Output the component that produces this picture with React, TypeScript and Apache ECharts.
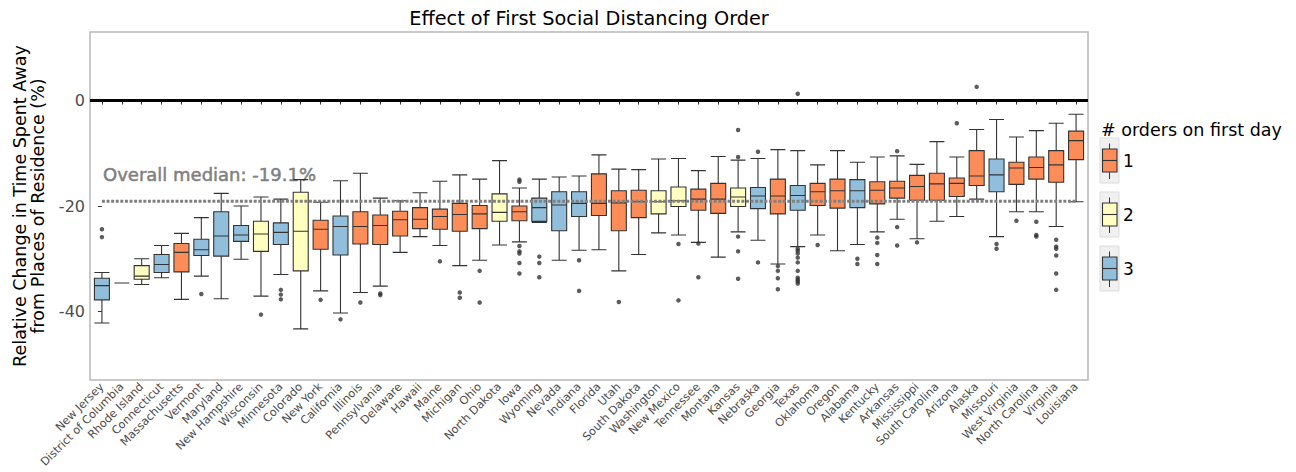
import React, { useEffect, useRef } from "react";
import * as echarts from "echarts";

const states = [
  "New Jersey", "District of Columbia", "Rhode Island", "Connecticut", "Massachusetts",
  "Vermont", "Maryland", "New Hampshire", "Wisconsin", "Minnesota",
  "Colorado", "New York", "California", "Illinois", "Pennsylvania",
  "Delaware", "Hawaii", "Maine", "Michigan", "Ohio",
  "North Dakota", "Iowa", "Wyoming", "Nevada", "Indiana",
  "Florida", "Utah", "South Dakota", "Washington", "New Mexico",
  "Tennessee", "Montana", "Kansas", "Nebraska", "Georgia",
  "Texas", "Oklahoma", "Oregon", "Alabama", "Kentucky",
  "Arkansas", "Mississippi", "South Carolina", "Arizona", "Alaska",
  "Missouri", "West Virginia", "North Carolina", "Virginia", "Louisiana",
];

// # orders on first day
const groups = [
  3, 3, 2, 3, 1, 3, 3, 3, 2, 3,
  2, 1, 3, 1, 1, 1, 1, 1, 1, 1,
  2, 1, 3, 3, 3, 1, 1, 1, 2, 2,
  1, 1, 2, 3, 1, 3, 1, 1, 3, 1,
  1, 1, 1, 1, 1, 3, 1, 1, 1, 1,
];

const whiskerLow = [
  -42.2, -34.6, -34.9, -33.6, -37.7, -33.3, -37.6, -30.1, -37.1, -33.0,
  -43.3, -36.1, -40.3, -36.4, -35.2, -28.8, -25.8, -27.5, -31.3, -30.3,
  -27.4, -26.8, -23.1, -30.3, -28.4, -28.3, -32.3, -29.2, -25.1, -25.5,
  -26.9, -29.7, -24.9, -26.5, -31.0, -27.7, -25.5, -28.5, -27.3, -24.9,
  -22.5, -26.2, -22.9, -22.0, -18.7, -25.8, -21.1, -21.1, -23.9, -19.2,
];
const q1 = [
  -37.8, -34.6, -33.9, -32.6, -32.5, -29.4, -29.5, -26.7, -28.6, -27.3,
  -32.3, -28.2, -29.3, -27.2, -27.3, -25.7, -24.3, -24.4, -24.8, -24.3,
  -22.9, -22.8, -22.9, -24.7, -22.0, -21.8, -24.7, -22.2, -21.5, -20.1,
  -20.8, -21.4, -20.1, -20.5, -21.5, -20.8, -19.9, -20.4, -20.3, -19.6,
  -18.5, -18.9, -18.9, -18.2, -16.1, -17.3, -15.9, -14.9, -15.5, -11.2,
];
const median = [
  -35.1, -34.6, -33.3, -31.1, -28.8, -28.3, -25.7, -25.5, -25.3, -25.0,
  -24.8, -24.4, -23.9, -23.9, -23.7, -22.6, -22.5, -22.0, -21.6, -21.5,
  -21.2, -21.1, -20.3, -19.8, -19.5, -19.5, -19.4, -19.2, -19.2, -19.0,
  -18.7, -18.7, -18.3, -18.1, -18.1, -18.0, -17.3, -17.1, -17.1, -17.0,
  -16.6, -16.3, -15.8, -15.7, -14.3, -14.1, -12.8, -12.7, -12.2, -7.6,
];
const q3 = [
  -33.7, -34.6, -31.3, -29.2, -27.1, -26.3, -21.1, -23.7, -22.9, -23.2,
  -17.4, -22.7, -21.9, -21.1, -21.7, -21.0, -20.3, -20.6, -19.5, -19.9,
  -17.7, -20.0, -18.5, -17.3, -17.3, -13.9, -17.1, -17.0, -17.1, -16.4,
  -16.8, -15.7, -16.6, -16.5, -14.9, -16.1, -15.7, -14.9, -15.0, -15.4,
  -15.3, -14.2, -13.8, -14.7, -9.5, -11.1, -11.7, -10.7, -9.5, -5.8,
];
const whiskerHigh = [
  -32.6, -34.6, -30.0, -27.5, -25.2, -22.2, -17.6, -20.0, -18.3, -18.7,
  -15.0, -19.3, -15.2, -13.8, -18.5, -19.0, -17.5, -15.3, -14.1, -14.9,
  -11.4, -16.6, -14.9, -14.5, -14.3, -10.3, -13.0, -13.1, -11.1, -11.0,
  -13.3, -10.6, -11.3, -11.0, -9.3, -9.5, -12.2, -9.5, -11.7, -10.7,
  -10.5, -12.1, -7.8, -10.7, -5.5, -3.6, -6.9, -5.7, -4.3, -2.6,
];

const outliers: [string, number][] = [
  ["New Jersey", -24.4], ["New Jersey", -25.9],
  ["Vermont", -36.7],
  ["Wisconsin", -40.6],
  ["Minnesota", -35.9], ["Minnesota", -36.8], ["Minnesota", -37.7],
  ["New York", -37.8],
  ["California", -41.5],
  ["Illinois", -38.3],
  ["Pennsylvania", -36.6], ["Pennsylvania", -36.9],
  ["Maine", -30.5],
  ["Michigan", -36.4], ["Michigan", -37.4],
  ["Ohio", -32.3], ["Ohio", -38.3],
  ["Iowa", -15.0], ["Iowa", -15.4], ["Iowa", -27.6], ["Iowa", -28.6], ["Iowa", -29.0], ["Iowa", -30.8], ["Iowa", -32.8],
  ["Wyoming", -29.6], ["Wyoming", -30.8], ["Wyoming", -33.5],
  ["Indiana", -30.3], ["Indiana", -36.1],
  ["Utah", -38.2],
  ["New Mexico", -27.2], ["New Mexico", -37.9],
  ["Tennessee", -27.1], ["Tennessee", -33.5],
  ["Kansas", -5.6], ["Kansas", -10.7], ["Kansas", -25.8], ["Kansas", -28.6], ["Kansas", -33.8],
  ["Nebraska", -9.7], ["Nebraska", -30.7],
  ["Georgia", -31.4], ["Georgia", -32.3], ["Georgia", -33.7], ["Georgia", -35.8],
  ["Texas", 1.3], ["Texas", -28.1], ["Texas", -28.5], ["Texas", -29.0], ["Texas", -29.8], ["Texas", -30.7],
  ["Texas", -32.3], ["Texas", -33.6], ["Texas", -34.0], ["Texas", -34.3], ["Texas", -34.7],
  ["Oklahoma", -27.4],
  ["Alabama", -30.0], ["Alabama", -31.0],
  ["Kentucky", -26.0], ["Kentucky", -27.0], ["Kentucky", -29.3], ["Kentucky", -31.0],
  ["Arkansas", -9.6], ["Arkansas", -24.0], ["Arkansas", -27.5],
  ["Mississippi", -26.9],
  ["Arizona", -4.3],
  ["Alaska", 2.6],
  ["Missouri", -27.2], ["Missouri", -28.1],
  ["West Virginia", -22.8],
  ["North Carolina", -23.0], ["North Carolina", -25.5], ["North Carolina", -25.8],
  ["Virginia", -26.4], ["Virginia", -27.7], ["Virginia", -28.1], ["Virginia", -29.4], ["Virginia", -32.8], ["Virginia", -35.9],
];

const overallMedian = -19.1;
const yTicks = [-40, -20, 0];
const legendLabels = ["1", "2", "3"];

const groupColors: Record<number, string> = { 1: "#FC8D59", 2: "#FFFFBF", 3: "#91BFDB" };
const FONT = "DejaVu Sans";

export default function App() {
  const ref = useRef<HTMLDivElement>(null);
  useEffect(() => {
    document.body.style.margin = "0";
    const chart = echarts.init(ref.current!, null, { renderer: "svg" });
    const idx = states.map((_, i) => i);
    const boxData = states.map((_, i) => ({
      value: [i, whiskerLow[i], q1[i], median[i], q3[i], whiskerHigh[i]],
      itemStyle: { color: groupColors[groups[i]], borderColor: "#333333", borderWidth: 1.1 },
    }));
    const outData = outliers.map(([s, v]) => [states.indexOf(s), v]);

    const legendEls: any[] = [];
    legendLabels.forEach((lab, k) => {
      const cy = 160.5 + 54 * k;
      legendEls.push(
        { type: "rect", shape: { x: 1100, y: cy - 22.5, width: 19, height: 45 }, style: { fill: "#f0f0f0", stroke: "#dddddd", lineWidth: 1 } },
        { type: "line", shape: { x1: 1109.5, y1: cy - 17, x2: 1109.5, y2: cy + 18.5 }, style: { stroke: "#333333", lineWidth: 1 } },
        { type: "rect", shape: { x: 1102.5, y: cy - 11.5, width: 14.5, height: 23 }, style: { fill: groupColors[Number(lab)], stroke: "#333333", lineWidth: 1.1 } },
        { type: "line", shape: { x1: 1102.5, y1: cy, x2: 1117, y2: cy }, style: { stroke: "#333333", lineWidth: 1.1 } },
        { type: "text", x: 1123, y: cy, style: { text: lab, font: `17px '${FONT}'`, fill: "#000", textVerticalAlign: "middle", verticalAlign: "middle" } },
      );
    });

    chart.setOption({
      animation: false,
      backgroundColor: "#ffffff",
      textStyle: { fontFamily: FONT },
      grid: { left: 90, right: 208, top: 32, bottom: 92, show: true, borderColor: "#b8b8b8", borderWidth: 1.5, backgroundColor: "transparent" },
      xAxis: {
        type: "value",
        min: -0.6,
        max: 49.6,
        axisLine: { show: false },
        splitLine: { show: false },
        axisTick: { show: true, customValues: idx, length: 4, lineStyle: { color: "#333333" } },
        axisLabel: {
          customValues: idx,
          formatter: (v: number) => states[Math.round(v)],
          rotate: 45,
          fontSize: 11.3,
          color: "#4d4d4d",
          fontFamily: FONT,
          margin: 5,
        },
      },
      yAxis: {
        type: "value",
        min: -53,
        max: 13,
        axisLine: { show: false },
        splitLine: { show: false },
        axisTick: { show: true, customValues: yTicks, length: 4, lineStyle: { color: "#333333" } },
        axisLabel: { customValues: yTicks, fontSize: 16, color: "#4d4d4d", fontFamily: FONT, margin: 5 },
      },
      series: [
        {
          type: "boxplot",
          data: boxData,
          boxWidth: [15, 15],
          z: 2,
          markLine: {
            silent: true,
            symbol: ["none", "none"],
            label: { show: false },
            lineStyle: { color: "#000000", width: 3, type: "solid" },
            data: [{ yAxis: 0 }],
          },
        },
        {
          type: "scatter",
          data: outData,
          symbolSize: 4.5,
          itemStyle: { color: "#333333" },
          z: 3,
        },
        {
          type: "line",
          data: [[0, overallMedian], [states.length - 1, overallMedian]],
          symbol: "none",
          silent: true,
          z: 4,
          lineStyle: { color: "#808080", width: 3.2, type: [3, 1.6], cap: "butt" },
        },
      ],
      graphic: [
        { type: "text", x: 589, y: 18.5, style: { text: "Effect of First Social Distancing Order", font: `19.3px '${FONT}'`, fill: "#000", textAlign: "center", textVerticalAlign: "middle", verticalAlign: "middle", align: "center" } },
        { type: "text", x: 29, y: 206, rotation: Math.PI / 2, style: { text: "Relative Change in Time Spent Away\nfrom Places of Residence (%)", font: `17.5px '${FONT}'`, lineHeight: 18, fill: "#000", textAlign: "center", align: "center", textVerticalAlign: "middle", verticalAlign: "middle" } },
        { type: "text", x: 103, y: 174, style: { text: `Overall median: ${overallMedian}%`, font: `18px '${FONT}'`, fill: "#808080", stroke: "#808080", lineWidth: 0.5, textVerticalAlign: "middle", verticalAlign: "middle" } },
        { type: "text", x: 1101, y: 130, style: { text: "# orders on first day", font: `17.5px '${FONT}'`, fill: "#000", textVerticalAlign: "middle", verticalAlign: "middle" } },
        ...legendEls,
      ],
    });
    return () => chart.dispose();
  }, []);
  return <div ref={ref} style={{ width: 1296, height: 472 }} />;
}
